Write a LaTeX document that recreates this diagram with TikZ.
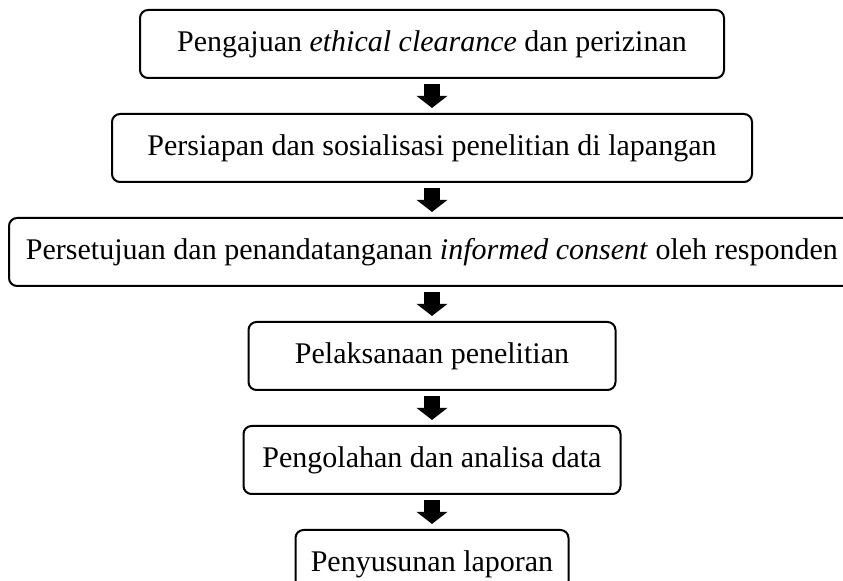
\documentclass[tikz,border=0pt]{standalone}
\usepackage{fontspec}
\setmainfont{Liberation Serif}
\usetikzlibrary{positioning,arrows.meta}

\begin{document}
\begin{tikzpicture}[
	%	style def
	process box/.style={draw, line width=1pt, rounded corners=4pt, minimum height=34pt, inner xsep=0pt, font=\fontsize{15}{18}\selectfont},
	block arrow/.style={line width=8pt, -{Triangle[width=15pt,length=6pt]}, shorten <=2.5pt, shorten >=2.5pt},
	node distance=17pt
	]
	% page frame
	\useasboundingbox (0,0) rectangle (421.5pt,-290.5pt);

	% steps of the procedure
	\node[process box, minimum width=292pt] (clearance) at (216pt,-22pt) {Pengajuan \textit{ethical clearance} dan perizinan};
	\node[process box, minimum width=320pt, below=of clearance] (prepare) {Persiapan dan sosialisasi penelitian di lapangan};
	\node[process box, minimum width=423pt, below=of prepare] (consent) {Persetujuan dan penandatanganan \textit{informed consent} oleh responden};
	\node[process box, minimum width=183.5pt, below=of consent] (execute) {Pelaksanaan penelitian};
	\node[process box, minimum width=188.5pt, below=of execute] (analyse) {Pengolahan dan analisa data};
	\node[process box, minimum width=136.5pt, below=of analyse] (report) {Penyusunan laporan};

	% block arrows between steps
	\draw[block arrow] (clearance) -- (prepare);
	\draw[block arrow] (prepare) -- (consent);
	\draw[block arrow] (consent) -- (execute);
	\draw[block arrow] (execute) -- (analyse);
	\draw[block arrow] (analyse) -- (report);
\end{tikzpicture}
\end{document}
